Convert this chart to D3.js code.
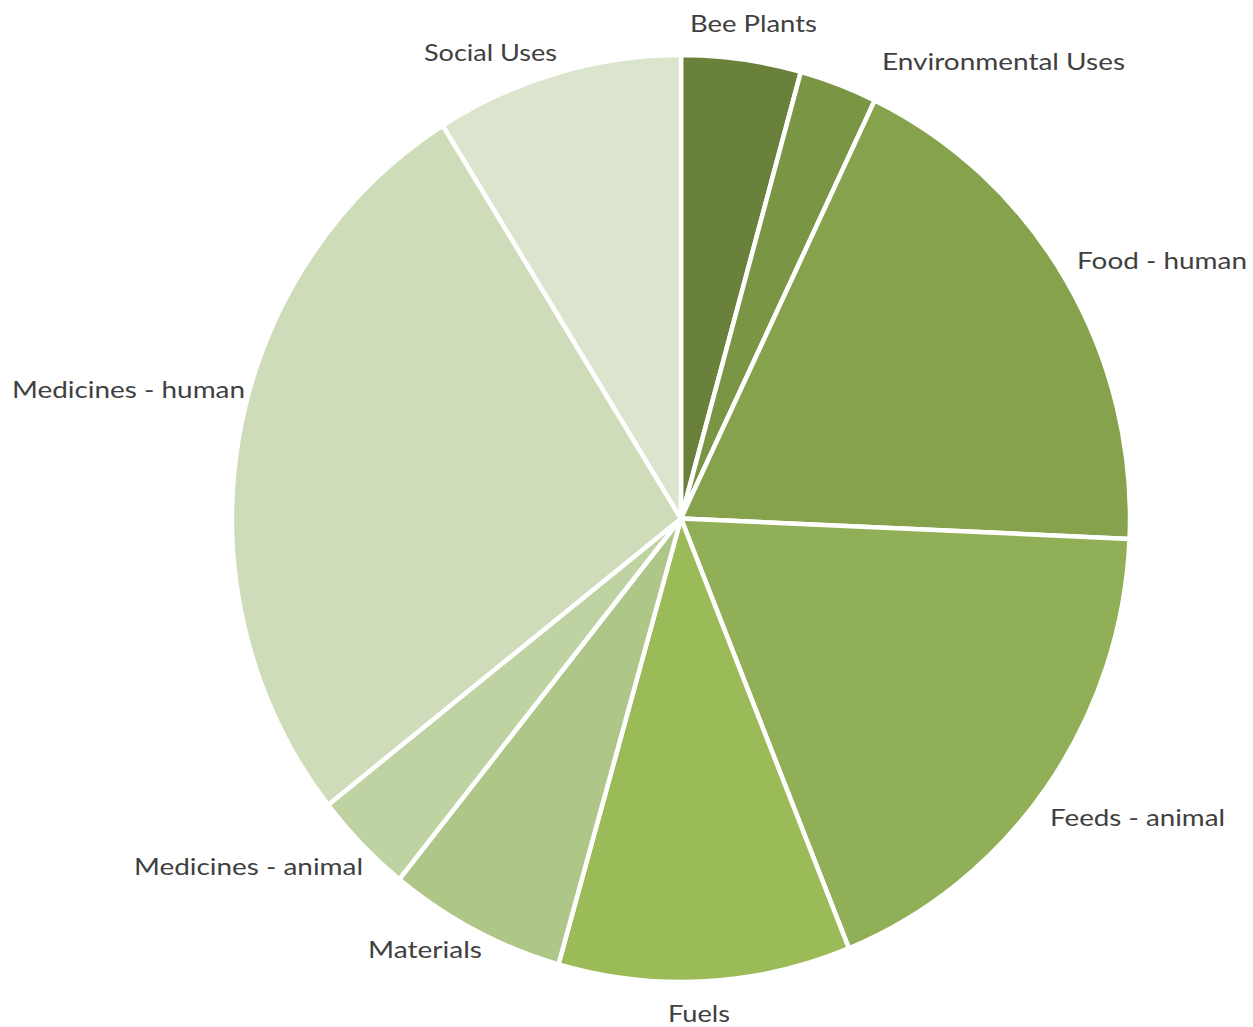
<!DOCTYPE html>
<html>
<head>
<meta charset="utf-8">
<script src="https://cdn.jsdelivr.net/npm/d3@7"></script>
<style>
  html, body { margin: 0; padding: 0; background: #fff; overflow: hidden; }
  text { font-family: Lato, "Open Sans", sans-serif; fill: #404040; }
</style>
</head>
<body>
<div id="pie"></div>
<script>
// slice data (percent of species per use category), clockwise from 12 o'clock
const categories = ["Bee Plants", "Environmental Uses", "Food - human", "Feeds - animal",
  "Fuels", "Materials", "Medicines - animal", "Medicines - human", "Social Uses"];
const values = [4.3, 2.8, 18.6, 18.2, 10.5, 6.4, 3.6, 26.7, 8.9];
const colors = ["#6a813b", "#7a9645", "#86a24d", "#91af56", "#9bbb59",
  "#aec687", "#bfd2a1", "#cfdcb9", "#dbe4cc"];

// label placement (x, baseline y, anchor, width) tuned to match the original layout
const labelLayout = [
  { x: 690, y: 32, w: 127 },
  { x: 882, y: 70, w: 243 },
  { x: 1077, y: 269, w: 170 },
  { x: 1050, y: 826, w: 175 },
  { x: 668, y: 1022, w: 62 },
  { x: 368, y: 958, w: 114 },
  { x: 134, y: 875, w: 229 },
  { x: 12, y: 398, w: 233 },
  { x: 424, y: 61, w: 133 }
];

const width = 1253, height = 1027;
const cx = 681, cy = 518.5;
const rx = 449, ry = 463.5; // the original is slightly stretched vertically

const svg = d3.select("#pie").append("svg")
  .attr("width", width)
  .attr("height", height);

const pie = d3.pie().sort(null).value(d => d)(values);
const arc = d3.arc().innerRadius(0).outerRadius(rx);

const g = svg.append("g")
  .attr("transform", `translate(${cx},${cy}) scale(1,${ry / rx})`);

g.selectAll("path")
  .data(pie)
  .enter().append("path")
  .attr("d", arc)
  .attr("fill", (d, i) => colors[i])
  .attr("stroke", "#fff")
  .attr("stroke-width", 4.5)
  .attr("stroke-linejoin", "round")
  .attr("vector-effect", "non-scaling-stroke");

// labels
svg.selectAll("text.label")
  .data(categories)
  .enter().append("text")
  .attr("class", "label")
  .attr("x", (d, i) => labelLayout[i].x)
  .attr("y", (d, i) => labelLayout[i].y)
  .attr("textLength", (d, i) => labelLayout[i].w)
  .attr("lengthAdjust", "spacingAndGlyphs")
  .style("font-size", "24px")
  .text(d => d);
</script>
</body>
</html>
